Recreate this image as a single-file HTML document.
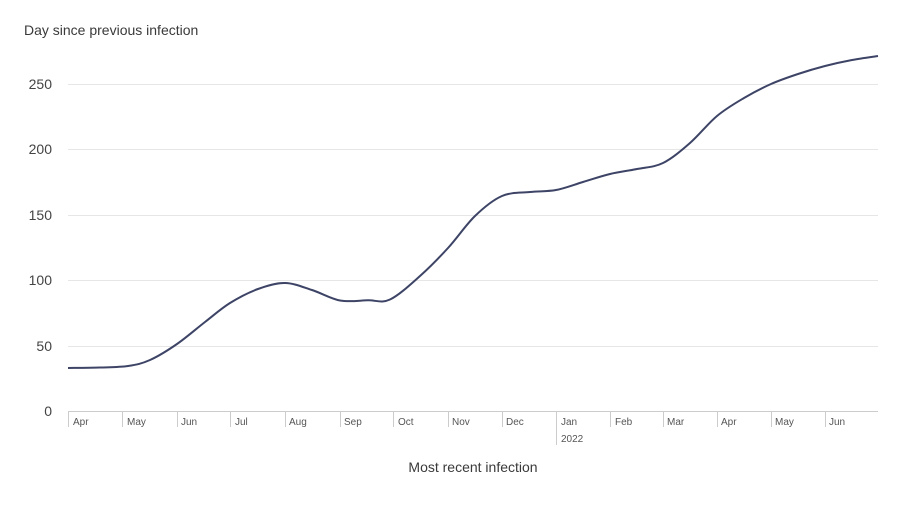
<!DOCTYPE html>
<html><head><meta charset="utf-8"><style>
body{margin:0;background:#fff;width:902px;height:500px;overflow:hidden;font-family:"Liberation Sans",sans-serif}
</style></head><body>
<svg width="902" height="500" xmlns="http://www.w3.org/2000/svg" font-family="Liberation Sans, sans-serif">
<text x="24" y="35" font-size="14" fill="#3a3a3a">Day since previous infection</text>
<g stroke="#e6e6e6" stroke-width="1">
<line x1="68" x2="878" y1="84.5" y2="84.5"/><line x1="68" x2="878" y1="149.5" y2="149.5"/>
<line x1="68" x2="878" y1="215.5" y2="215.5"/><line x1="68" x2="878" y1="280.5" y2="280.5"/>
<line x1="68" x2="878" y1="346.5" y2="346.5"/>
</g>
<g font-size="14" fill="#444" text-anchor="end">
<text x="52" y="89">250</text><text x="52" y="154">200</text><text x="52" y="220">150</text>
<text x="52" y="285">100</text><text x="52" y="351">50</text><text x="52" y="416">0</text>
</g>
<line x1="68" x2="878" y1="411.5" y2="411.5" stroke="#ccc"/>
<g stroke="#ccc">
<line x1="68.5" x2="68.5" y1="411" y2="427"/><line x1="122.5" x2="122.5" y1="411" y2="427"/>
<line x1="177.5" x2="177.5" y1="411" y2="427"/><line x1="230.5" x2="230.5" y1="411" y2="427"/>
<line x1="285.5" x2="285.5" y1="411" y2="427"/><line x1="340.5" x2="340.5" y1="411" y2="427"/>
<line x1="393.5" x2="393.5" y1="411" y2="427"/><line x1="448.5" x2="448.5" y1="411" y2="427"/>
<line x1="502.5" x2="502.5" y1="411" y2="427"/><line x1="556.5" x2="556.5" y1="411" y2="445"/>
<line x1="610.5" x2="610.5" y1="411" y2="427"/><line x1="663.5" x2="663.5" y1="411" y2="427"/>
<line x1="717.5" x2="717.5" y1="411" y2="427"/><line x1="771.5" x2="771.5" y1="411" y2="427"/>
<line x1="825.5" x2="825.5" y1="411" y2="427"/>
</g>
<g font-size="10" fill="#555">
<text x="73" y="425">Apr</text><text x="127" y="425">May</text><text x="181" y="425">Jun</text>
<text x="235" y="425">Jul</text><text x="289" y="425">Aug</text><text x="344" y="425">Sep</text>
<text x="398" y="425">Oct</text><text x="452" y="425">Nov</text><text x="506" y="425">Dec</text>
<text x="561" y="425">Jan</text><text x="615" y="425">Feb</text><text x="667" y="425">Mar</text>
<text x="721" y="425">Apr</text><text x="775" y="425">May</text><text x="829" y="425">Jun</text>
<text x="561" y="442">2022</text>
</g>
<text x="473" y="472" font-size="14" fill="#3a3a3a" text-anchor="middle">Most recent infection</text>
<path id="c" fill="none" stroke="#3d4466" stroke-width="2"/>
</svg>
<script>
var p=[[68,368],[100,367.5],[128,366],[150,360],[177,344],[205,322],[230,303],[258,289],[285,283],[312,290],[340,300.5],[368,300.3],[390,299.5],[420,276],[448,248],[475,216],[502,196],[530,192],[556,190],[583,182],[610,174],[637,169],[663,163],[690,143],[717,116],[744,98],[771,84],[798,74],[825,66],[852,60],[878,56]];
var d="M"+p[0];
for(var i=0;i<p.length-1;i++){var a=p[i-1]||p[i],b=p[i],c=p[i+1],e=p[i+2]||c;
d+=" C"+(b[0]+(c[0]-a[0])/6)+","+(b[1]+(c[1]-a[1])/6)+" "+(c[0]-(e[0]-b[0])/6)+","+(c[1]-(e[1]-b[1])/6)+" "+c;}
document.getElementById("c").setAttribute("d",d);
</script>
</body></html>
